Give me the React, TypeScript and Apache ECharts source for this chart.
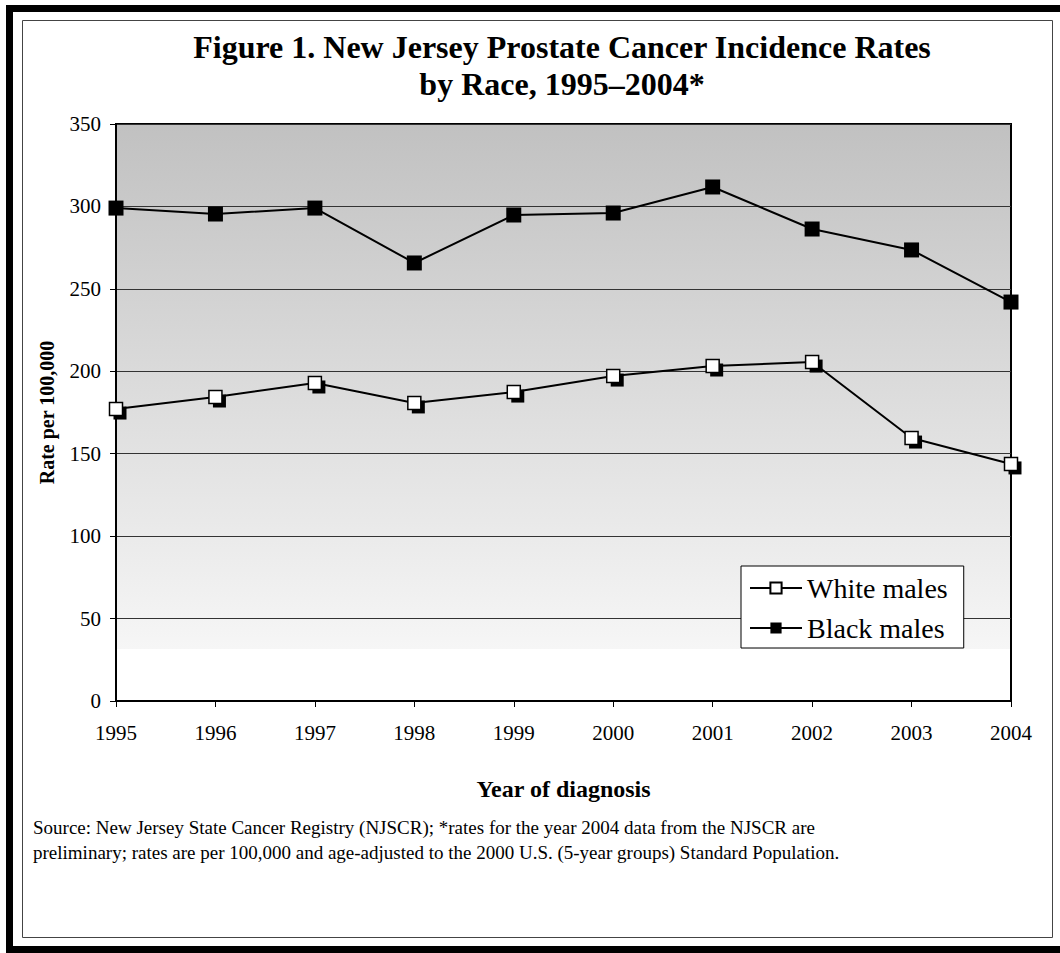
import React, { useEffect, useRef } from "react";
import * as echarts from "echarts";

const years = ["1995", "1996", "1997", "1998", "1999", "2000", "2001", "2002", "2003", "2004"];
const whiteMales = [177.1, 184.4, 192.9, 180.8, 187.4, 197.1, 203.2, 205.6, 159.5, 143.8];
const blackMales = [299, 295.4, 299, 265.7, 294.8, 296, 311.8, 286.3, 273.6, 242];
const yTicks = { min: 0, max: 350, interval: 50 };

const titleLines = ["Figure 1. New Jersey Prostate Cancer Incidence Rates", "by Race, 1995\u20132004*"];
const sourceLines = [
  "Source: New Jersey State Cancer Registry (NJSCR); *rates for the year 2004 data from the NJSCR are",
  "preliminary; rates are per 100,000 and age-adjusted to the 2000 U.S. (5-year groups) Standard Population.",
];

const FONT = "Liberation Serif";

export default function App() {
  const ref = useRef<HTMLDivElement>(null);
  useEffect(() => {
    if (!ref.current) return;
    const chart = echarts.init(ref.current, null, { renderer: "svg" });
    chart.setOption({
      animation: false,
      backgroundColor: "#fff",
      textStyle: { fontFamily: FONT },
      title: {
        text: titleLines.join("\n"),
        left: 557,
        textAlign: "center",
        top: 23,
        textStyle: { fontFamily: FONT, fontSize: 32, fontWeight: "bold", color: "#000", lineHeight: 37 },
      },
      grid: {
        left: 116,
        top: 124,
        right: 49,
        bottom: 252,
        show: true,
        borderColor: "#000",
        borderWidth: 2,
        backgroundColor: new echarts.graphic.LinearGradient(0, 0, 0, 1, [
          { offset: 0, color: "#c1c1c1" },
          { offset: 0.91, color: "#f6f6f6" },
          { offset: 0.91, color: "#ffffff" },
          { offset: 1, color: "#ffffff" },
        ]),
      },
      legend: {
        data: ["White males", "Black males"],
        orient: "vertical",
        left: 741,
        top: 566,
        backgroundColor: "#fff",
        borderColor: "#000",
        borderWidth: 1,
        borderRadius: 0,
        padding: [8, 16, 6, 8],
        itemGap: 12,
        itemWidth: 52,
        itemHeight: 14,
        textStyle: { fontFamily: FONT, fontSize: 28, color: "#000" },
        itemStyle: { shadowBlur: 0, shadowOffsetX: 0, shadowOffsetY: 0, shadowColor: "transparent" },
      },
      xAxis: {
        type: "category",
        data: years,
        boundaryGap: false,
        name: "Year of diagnosis",
        nameLocation: "middle",
        nameGap: 76,
        nameTextStyle: { fontFamily: FONT, fontSize: 24, fontWeight: "bold", color: "#000" },
        axisLine: { lineStyle: { color: "#000", width: 2 } },
        axisTick: { show: true, alignWithLabel: true, length: 6, inside: false, lineStyle: { color: "#000" } },
        axisLabel: { fontFamily: FONT, fontSize: 21, color: "#000", margin: 21 },
        splitLine: { show: false },
      },
      yAxis: {
        type: "value",
        min: yTicks.min,
        max: yTicks.max,
        interval: yTicks.interval,
        name: "Rate per 100,000",
        nameLocation: "middle",
        nameGap: 59,
        nameRotate: 90,
        nameTextStyle: { fontFamily: FONT, fontSize: 20, fontWeight: "bold", color: "#000" },
        axisLine: { show: true, lineStyle: { color: "#000", width: 2 } },
        axisTick: { show: true, length: 6, inside: false, lineStyle: { color: "#000" } },
        axisLabel: { fontFamily: FONT, fontSize: 21, color: "#000", margin: 15 },
        splitLine: { show: true, lineStyle: { color: "#333", width: 1 } },
      },
      series: [
        {
          name: "Black males",
          type: "line",
          data: blackMales,
          symbol: "rect",
          symbolSize: 15,
          z: 2,
          lineStyle: { color: "#000", width: 2 },
          itemStyle: { color: "#000", borderColor: "#000", borderWidth: 0 },
        },
        {
          name: "white-shadow",
          type: "line",
          data: whiteMales,
          symbol: "rect",
          symbolSize: 13,
          symbolOffset: [4, 4],
          z: 3,
          lineStyle: { width: 0, opacity: 0 },
          itemStyle: { color: "#000", borderWidth: 0 },
          silent: true,
        },
        {
          name: "White males",
          type: "line",
          data: whiteMales,
          symbol: "rect",
          symbolSize: 13,
          z: 4,
          lineStyle: { color: "#000", width: 2 },
          itemStyle: { color: "#fff", borderColor: "#000", borderWidth: 1.5 },
        },
      ],
      graphic: [
        { type: "rect", shape: { x: 22.5, y: 20.5, width: 1030, height: 917 }, style: { fill: "none", stroke: "#444", lineWidth: 1 }, z: 100 },
        { type: "rect", shape: { x: 6, y: 5, width: 1054, height: 7 }, style: { fill: "#000" }, z: 100 },
        { type: "rect", shape: { x: 6, y: 5, width: 7, height: 948 }, style: { fill: "#000" }, z: 100 },
        { type: "rect", shape: { x: 6, y: 946, width: 1054, height: 7 }, style: { fill: "#000" }, z: 100 },
        {
          type: "text",
          left: 33,
          top: 815,
          style: { text: sourceLines.join("\n"), font: `19px "Liberation Serif"`, fill: "#000", lineHeight: 25 },
          z: 100,
        },
      ],
    });
    return () => chart.dispose();
  }, []);
  return <div ref={ref} style={{ position: "absolute", left: 0, top: 0, width: 1060, height: 953 }} />;
}
